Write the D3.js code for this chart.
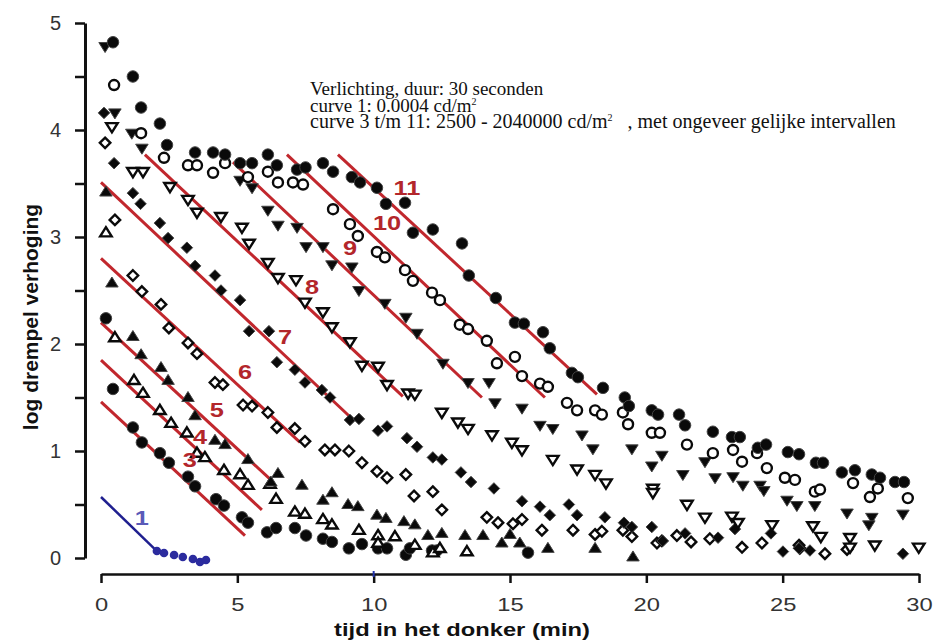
<!DOCTYPE html>
<html>
<head>
<meta charset="utf-8">
<script src="https://cdn.jsdelivr.net/npm/d3@7"></script>
<style>
  body { margin: 0; background: #fff; }
  svg { display: block; }
</style>
</head>
<body>
<script>
// ---- data: [tijd (min), log drempel verhoging] ----
const xTicks = [0, 5, 10, 15, 20, 25, 30];
const yTicks = [0, 0.5, 1, 1.5, 2, 2.5, 3, 3.5, 4, 4.5, 5];

const curve1 = [[2.05,0.065],[2.31,0.047],[2.68,0.028],[3.0,0.009],[3.37,-0.009],[3.63,-0.037],[3.85,-0.019]];
const curve1Fit = [[0,0.57],[2.05,0.065]];

const curve3 = [[0.18,2.24],[0.44,1.58],[1.17,1.22],[1.5,1.08],[2.16,0.98],[2.49,0.89],[3.19,0.76],[3.45,0.67],
  [4.22,0.55],[4.51,0.49],[5.17,0.38],[5.39,0.33],[6.09,0.24],[6.42,0.28],[7.11,0.28],[7.52,0.21],[8.14,0.18],
  [8.47,0.15],[9.09,0.09],[9.57,0.13],[10.16,0.09],[10.49,0.09],[11.18,0.03],[11.33,0.09],[12.14,0.07],[12.32,0.07],[15.66,0.05]];

const curve4 = [[0.18,3.04],[0.51,2.06],[1.21,1.66],[1.54,1.54],[2.16,1.38],[2.57,1.26],[3.15,1.17],[3.52,0.98],
  [3.81,0.94],[4.51,0.82],[5.1,0.78],[5.39,0.68],[6.2,0.69],[6.42,0.55],[7.11,0.43],[7.48,0.41],[8.14,0.36],
  [8.47,0.31],[9.46,0.26],[10.16,0.21],[10.78,0.2],[10.16,0.14],[11.51,0.12],[12.17,0.05],[12.43,0.09],[13.42,0.06]];

const curve5 = [[0.18,3.42],[0.4,2.57],[1.17,2.07],[1.47,1.9],[2.2,1.78],[2.46,1.66],[3.19,1.5],[3.45,1.33],
  [4.18,1.1],[4.55,1.06],[5.39,0.92],[6.23,0.71],[6.49,0.79],[7.37,0.68],[8.14,0.54],[8.47,0.61],[9.06,0.5],
  [9.42,0.48],[10.12,0.4],[10.45,0.37],[11.11,0.34],[11.51,0.31],[11.99,0.21],[12.5,0.23],[13.35,0.21],
  [14.01,0.21],[15.0,0.22],[14.7,0.14],[15.36,0.14],[16.39,0.09],[18.12,0.09],[19.51,0.01]];

const curve6 = [[0.15,3.88],[0.51,3.16],[1.17,2.64],[1.5,2.49],[2.2,2.37],[2.49,2.15],[3.19,2.01],[3.52,1.91],
  [4.18,1.64],[4.47,1.62],[5.21,1.43],[5.54,1.42],[6.12,1.36],[6.45,1.22],[7.11,1.21],[7.48,1.09],[8.21,1.01],
  [8.58,1.01],[9.09,1.0],[9.57,0.89],[10.12,0.81],[10.49,0.75],[11.18,0.78],[11.48,0.58],[12.17,0.62],[12.5,0.45],
  [14.15,0.38],[14.56,0.33],[15.11,0.32],[15.44,0.36],[16.17,0.26],[17.31,0.26],[18.12,0.22],[18.37,0.25],
  [19.14,0.26],[19.47,0.2],[20.39,0.14],[20.57,0.16],[21.12,0.21],[21.64,0.15],[22.33,0.18],[23.51,0.1],
  [24.24,0.14],[25.6,0.12],[25.63,0.09],[26.55,0.04],[27.36,0.08]];

const curve7 = [[0.11,4.16],[0.48,3.69],[1.17,3.41],[1.45,3.31],[2.16,3.13],[2.46,2.99],[3.15,2.9],[3.45,2.73],
  [4.18,2.64],[4.4,2.5],[5.1,2.41],[5.43,2.12],[6.16,2.12],[6.45,1.83],[7.11,1.76],[7.48,1.64],[8.1,1.57],
  [8.4,1.5],[9.13,1.29],[9.46,1.3],[10.16,1.19],[10.49,1.23],[11.22,1.12],[11.59,1.04],[12.17,0.94],[12.5,0.92],
  [13.2,0.8],[13.57,0.71],[14.41,0.65],[15.44,0.53],[16.1,0.48],[16.46,0.4],[17.16,0.5],[17.46,0.4],[18.48,0.38],
  [19.18,0.33],[19.47,0.29],[20.2,0.29],[20.6,0.16],[21.42,0.23],[22.63,0.19],[23.25,0.27],[24.57,0.23],
  [25.01,0.06],[25.6,0.09],[26.0,0.07],[29.41,0.04]];

const curve8 = [[0.4,4.03],[1.17,3.61],[1.54,3.61],[2.53,3.47],[3.19,3.35],[3.52,3.23],[4.4,3.19],[5.17,3.09],
  [5.43,2.94],[6.12,2.76],[6.49,2.62],[7.15,2.6],[7.48,2.39],[8.14,2.3],[8.47,2.16],[9.13,2.02],[9.57,1.8],
  [10.16,1.79],[10.49,1.62],[11.26,1.54],[11.51,1.53],[12.5,1.36],[13.09,1.27],[13.46,1.21],[14.34,1.15],
  [15.07,1.08],[15.44,1.01],[16.57,0.92],[17.46,0.83],[18.12,0.78],[18.52,0.7],[20.24,0.65],[20.24,0.61],
  [21.49,0.5],[22.15,0.38],[23.14,0.39],[23.36,0.33],[24.61,0.31],[26.11,0.3],[26.4,0.2],[27.47,0.19],
  [27.47,0.1],[28.38,0.12],[29.99,0.1]];

const curve9 = [[0.15,4.78],[0.51,4.16],[1.13,3.97],[1.5,3.83],[5.1,3.53],[5.54,3.46],[6.12,3.25],[6.49,3.11],
  [7.19,3.09],[7.52,2.91],[8.14,2.91],[8.47,2.74],[9.2,2.72],[9.46,2.5],[10.41,2.38],[11.18,2.25],[11.59,2.1],
  [12.54,1.82],[13.46,1.64],[14.23,1.64],[14.45,1.45],[15.44,1.4],[16.1,1.24],[16.57,1.21],[17.64,1.15],
  [18.04,1.02],[19.47,1.02],[20.57,0.96],[20.2,0.86],[21.34,0.78],[22.15,0.9],[22.52,0.75],[23.18,0.76],
  [23.54,0.68],[24.17,0.68],[24.31,0.63],[25.16,0.54],[25.52,0.49],[26.18,0.49],[27.36,0.42],[28.27,0.38],
  [28.16,0.31],[29.41,0.41]];

const curve10 = [[0.48,4.42],[1.47,3.97],[2.31,3.74],[3.19,3.67],[3.52,3.67],[4.11,3.6],[4.55,3.69],[5.39,3.56],
  [6.12,3.61],[6.49,3.51],[7.04,3.51],[7.41,3.49],[8.51,3.26],[9.13,3.12],[9.42,3.01],[10.12,2.86],[10.41,2.81],
  [11.15,2.69],[11.44,2.59],[12.14,2.48],[12.43,2.41],[13.16,2.18],[13.46,2.14],[14.15,2.03],[14.52,1.82],
  [15.18,1.88],[15.44,1.7],[16.1,1.63],[16.39,1.6],[17.09,1.45],[17.46,1.38],[18.12,1.38],[18.37,1.34],
  [19.14,1.36],[19.33,1.25],[20.2,1.17],[20.5,1.17],[21.49,1.06],[22.44,0.98],[23.18,1.01],[23.51,0.9],
  [24.06,0.98],[24.42,0.84],[25.08,0.75],[25.45,0.73],[26.18,0.62],[26.37,0.64],[27.58,0.7],[28.2,0.57],
  [28.49,0.65],[29.59,0.56]];

const curve11 = [[0.44,4.82],[1.17,4.5],[1.47,4.21],[2.16,4.06],[2.42,3.86],[3.45,3.79],[4.11,3.79],[4.55,3.77],
  [5.1,3.69],[5.54,3.69],[6.12,3.77],[6.45,3.67],[7.19,3.63],[7.5,3.65],[8.14,3.69],[8.51,3.61],[9.2,3.56],
  [9.5,3.51],[10.12,3.46],[10.45,3.31],[11.15,3.32],[11.44,3.04],[12.17,3.07],[13.24,2.94],[13.49,2.64],
  [14.48,2.43],[15.18,2.2],[15.51,2.19],[16.21,2.11],[16.46,1.96],[17.27,1.73],[17.49,1.69],[18.41,1.59],
  [19.21,1.5],[19.36,1.42],[20.2,1.38],[20.43,1.34],[21.2,1.34],[21.42,1.24],[22.44,1.18],[23.14,1.13],
  [23.43,1.13],[24.09,1.03],[24.39,1.06],[25.19,0.99],[25.6,0.97],[26.22,0.89],[26.48,0.89],[27.17,0.8],
  [27.65,0.82],[28.27,0.78],[28.57,0.75],[29.12,0.71],[29.45,0.71]];

// fitted red lines: label, start, end, label position
const fitLabels = ['3', '4', '5', '6', '7', '8', '9', '10', '11'];
const fitStarts = [[0,1.46],[0,1.85],[0,2.2],[0,2.8],[0,3.51],[1.61,3.77],[4.84,3.7],[6.82,3.77],[8.69,3.77]];
const fitEnds = [[5.28,0.21],[5.9,0.45],[6.23,0.73],[7.3,1.08],[9.13,1.32],[11.07,1.51],[13.97,1.5],[16.28,1.5],[18.19,1.53]];
const fitLabelAt = [[3.26,0.92],[3.63,1.13],[4.25,1.38],[5.28,1.74],[6.75,2.07],[7.74,2.53],[9.13,2.9],[10.49,3.13],[11.22,3.46]];

// annotation: [text, superscript, text after], font size
const noteLines = [
  ['Verlichting, duur: 30 seconden'],
  ['curve 1: 0.0004 cd/m', '2'],
  ['curve 3 t/m 11: 2500 - 2040000 cd/m', '2', '   , met ongeveer gelijke intervallen']
];
const noteSizes = [19, 19, 20];

// ---- setup ----
const W = 933, H = 641;
const svg = d3.select('body').append('svg').attr('width', W).attr('height', H);

const x = d3.scaleLinear().domain([0, 30]).range([101, 919]);
const y = d3.scaleLinear().domain([0, 5]).range([558, 23]);

const RED = '#c1272d';
const BLUE = '#1f1f8f';
const SANS = 'Liberation Sans, Arial, sans-serif';

// marker shapes (size = width in px)
const circle = { draw(c, w) { const r = w / 2; c.moveTo(r, 0); c.arc(0, 0, r, 0, 2 * Math.PI); } };
const triUp = { draw(c, w) { const h = w * 0.8; c.moveTo(0, -h * 0.6); c.lineTo(w / 2, h * 0.4); c.lineTo(-w / 2, h * 0.4); c.closePath(); } };
const triDown = { draw(c, w) { const h = w * 0.8; c.moveTo(0, h * 0.6); c.lineTo(w / 2, -h * 0.4); c.lineTo(-w / 2, -h * 0.4); c.closePath(); } };
const diamond = { draw(c, w) { const h = w; c.moveTo(0, -h / 2); c.lineTo(w / 2, 0); c.lineTo(0, h / 2); c.lineTo(-w / 2, 0); c.closePath(); } };

const series = [
  { pts: curve3, type: circle, filled: true, w: 11.5 },
  { pts: curve4, type: triUp, filled: false, w: 11.5 },
  { pts: curve5, type: triUp, filled: true, w: 12.5 },
  { pts: curve6, type: diamond, filled: false, w: 10.5 },
  { pts: curve7, type: diamond, filled: true, w: 11.5 },
  { pts: curve8, type: triDown, filled: false, w: 11.5 },
  { pts: curve9, type: triDown, filled: true, w: 12.5 },
  { pts: curve10, type: circle, filled: false, w: 10 },
  { pts: curve11, type: circle, filled: true, w: 11.5 }
];

// ---- axes ----
const yAxis = d3.axisLeft(y)
  .tickValues(yTicks)
  .tickSize(10).tickSizeOuter(0).tickPadding(14)
  .tickFormat(d => Number.isInteger(d) ? d : '');
const gy = svg.append('g').attr('transform', 'translate(85,0)').call(yAxis);
gy.select('.domain').attr('stroke', '#111').attr('stroke-width', 3);
gy.selectAll('.tick line').attr('stroke', '#111').attr('stroke-width', 2.5);
gy.selectAll('.tick text')
  .attr('font-family', SANS).attr('font-size', 20).attr('fill', '#333');

const xAxis = d3.axisBottom(x)
  .tickValues(xTicks)
  .tickSize(9).tickSizeOuter(0).tickPadding(15);
const gx = svg.append('g').attr('transform', 'translate(0,574)').call(xAxis);
gx.select('.domain').attr('stroke', '#111').attr('stroke-width', 2.5);
gx.selectAll('.tick line').attr('stroke', '#111').attr('stroke-width', 2.5);
gx.selectAll('.tick text')
  .attr('font-family', SANS).attr('font-size', 18).attr('fill', '#333')
  .attr('transform', 'scale(1.32,1)');

// small blue mark on the x axis
svg.append('line')
  .attr('x1', x(10)).attr('x2', x(10))
  .attr('y1', 571).attr('y2', 577)
  .attr('stroke', '#2233aa').attr('stroke-width', 2);

// axis titles
svg.append('text')
  .attr('transform', 'translate(462,636) scale(1.32,1)')
  .attr('text-anchor', 'middle')
  .attr('font-family', SANS).attr('font-weight', 'bold').attr('font-size', 18).attr('fill', '#111')
  .text('tijd in het donker (min)');

svg.append('text')
  .attr('transform', 'translate(38,317) rotate(-90)')
  .attr('text-anchor', 'middle')
  .attr('font-family', SANS).attr('font-weight', 'bold').attr('font-size', 21).attr('fill', '#111')
  .text('log drempel verhoging');

// ---- fitted lines ----
svg.append('g').selectAll('line')
  .data(fitLabels)
  .join('line')
  .attr('x1', (d, i) => x(fitStarts[i][0])).attr('y1', (d, i) => y(fitStarts[i][1]))
  .attr('x2', (d, i) => x(fitEnds[i][0])).attr('y2', (d, i) => y(fitEnds[i][1]))
  .attr('stroke', RED).attr('stroke-width', 3);

// curve 1 (blue)
svg.append('path')
  .datum(curve1Fit)
  .attr('d', d3.line().x(d => x(d[0])).y(d => y(d[1])))
  .attr('fill', 'none').attr('stroke', BLUE).attr('stroke-width', 2.5);
svg.append('g').selectAll('circle')
  .data(curve1)
  .join('circle')
  .attr('cx', d => x(d[0])).attr('cy', d => y(d[1])).attr('r', 4.3)
  .attr('fill', '#2b2b9e');

// ---- markers ----
series.forEach(s => {
  const sym = d3.symbol().type(s.type).size(s.w);
  svg.append('g').selectAll('path')
    .data(s.pts)
    .join('path')
    .attr('transform', d => `translate(${x(d[0])},${y(d[1])})`)
    .attr('d', sym)
    .attr('fill', s.filled ? '#0a0a0a' : '#fff')
    .attr('stroke', s.filled ? '#444' : '#0a0a0a')
    .attr('stroke-width', s.filled ? 1 : 2.4)
    .attr('stroke-linejoin', 'miter');
});

// ---- line labels ----
svg.append('g').selectAll('text')
  .data(fitLabels)
  .join('text')
  .attr('transform', (d, i) => `translate(${x(fitLabelAt[i][0])},${y(fitLabelAt[i][1]) + 7}) scale(1.3,1)`)
  .attr('text-anchor', 'middle')
  .attr('font-family', SANS).attr('font-weight', 'bold').attr('font-size', 19.5).attr('fill', '#b3262b')
  .text(d => d);

svg.append('text')
  .attr('transform', `translate(${x(1.5)},${y(0.37) + 7}) scale(1.3,1)`)
  .attr('text-anchor', 'middle')
  .attr('font-family', SANS).attr('font-weight', 'bold').attr('font-size', 19.5).attr('fill', '#5a5ab8')
  .text('1');

// ---- annotation ----
noteLines.forEach((ln, i) => {
  const t = svg.append('text')
    .attr('x', 310).attr('y', 95 + i * 16.5)
    .attr('font-family', 'Liberation Serif, Times New Roman, serif')
    .attr('font-size', noteSizes[i]).attr('fill', '#111')
    .style('white-space', 'pre');
  t.append('tspan').text(ln[0]);
  if (ln[1]) {
    t.append('tspan').attr('dy', -7).attr('font-size', 10).text(ln[1]);
    if (ln[2]) t.append('tspan').attr('dy', 7).text(ln[2]);
  }
});
</script>
</body>
</html>
